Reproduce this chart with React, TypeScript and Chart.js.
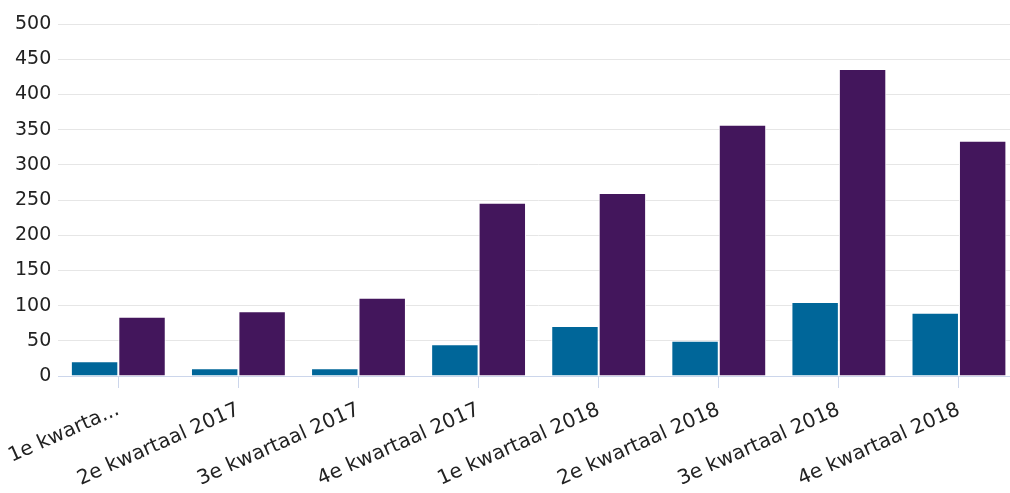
import React, { useEffect, useRef } from "react";
import { Chart, registerables } from "chart.js";

Chart.register(...registerables);

const categories = [
  "1e kwarta...",
  "2e kwartaal 2017",
  "3e kwartaal 2017",
  "4e kwartaal 2017",
  "1e kwartaal 2018",
  "2e kwartaal 2018",
  "3e kwartaal 2018",
  "4e kwartaal 2018",
];
const seriesA = [21, 11, 11, 45, 71, 50, 105, 90];
const seriesB = [84, 92, 111, 246, 260, 357, 436, 334];

export default function App() {
  const ref = useRef<HTMLCanvasElement | null>(null);

  useEffect(() => {
    if (!ref.current) return;
    const chart = new Chart(ref.current, {
      type: "bar",
      data: {
        labels: categories,
        datasets: [
          {
            label: "A",
            data: seriesA,
            backgroundColor: "#006699",
            borderColor: "#ffffff",
            borderWidth: 1,
            categoryPercentage: 0.79,
            barPercentage: 1.0,
          },
          {
            label: "B",
            data: seriesB,
            backgroundColor: "#43165c",
            borderColor: "#ffffff",
            borderWidth: 1,
            categoryPercentage: 0.79,
            barPercentage: 1.0,
          },
        ],
      },
      options: {
        animation: false,
        responsive: false,
        maintainAspectRatio: false,
        layout: { padding: { top: 24, right: 1, left: 0, bottom: 0 } },
        plugins: {
          legend: { display: false },
          tooltip: { enabled: false },
        },
        scales: {
          x: {
            offset: true,
            afterFit: (s: any) => {
              s.height = 117;
            },
            grid: {
              offset: false,
              drawOnChartArea: false,
              drawTicks: true,
              tickLength: 12,
              color: "#ccd6eb",
            },
            border: { display: true, color: "#ccd6eb", width: 1 },
            ticks: {
              minRotation: 24,
              maxRotation: 24,
              autoSkip: false,
              color: "#222222",
              font: { family: "DejaVu Sans", size: 20 },
              padding: 10,
            },
          },
          y: {
            min: 0,
            max: 500,
            afterFit: (s: any) => {
              s.width = 58;
            },
            ticks: {
              stepSize: 50,
              color: "#222222",
              font: { family: "DejaVu Sans", size: 19 },
              padding: 7,
            },
            grid: { color: "#e6e6e6", drawTicks: false, lineWidth: 1 },
            border: { display: false },
          },
        },
      },
    });
    return () => chart.destroy();
  }, []);

  return (
    <div
      style={{
        position: "fixed",
        left: 0,
        top: 0,
        width: 1010,
        height: 493,
        overflow: "hidden",
        background: "#fff",
      }}
    >
      <canvas
        ref={ref}
        width={1024}
        height={493}
        style={{ position: "absolute", left: -4, top: 0, width: 1024, height: 493, display: "block" }}
      />
    </div>
  );
}
